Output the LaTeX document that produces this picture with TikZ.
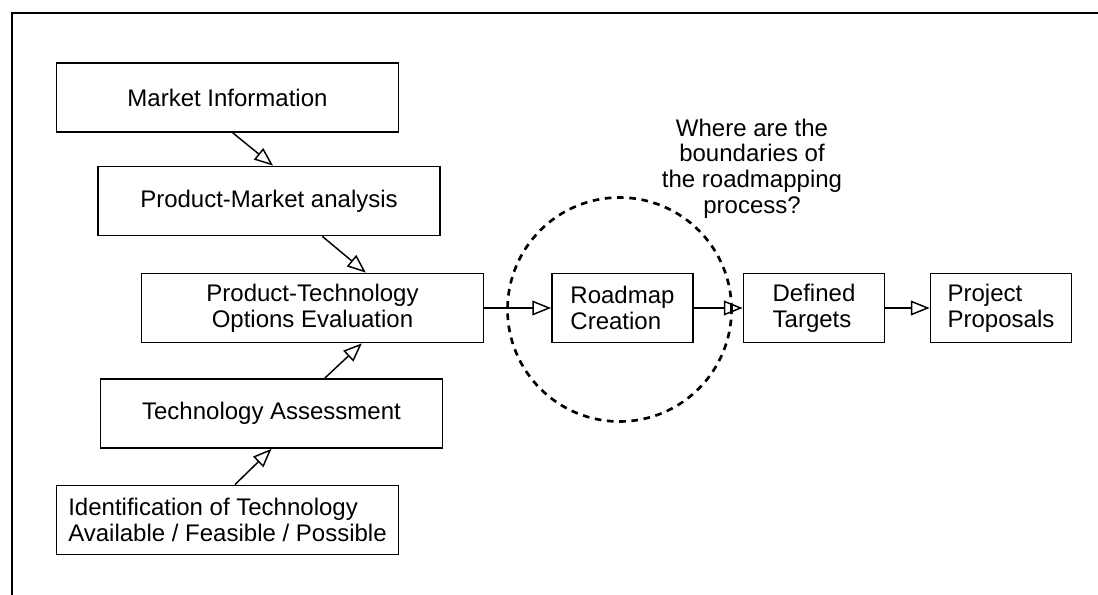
\documentclass[tikz,border=0pt]{standalone}
\usepackage{fontspec}
\setmainfont{Liberation Sans}
\usepackage{tikz}
\usetikzlibrary{arrows.meta, positioning, calc}

\begin{document}
\begin{tikzpicture}[
  x=0.75pt, y=-0.75pt,
  stage/.style={rectangle, draw, line width=1.1pt, minimum width=256.5pt, minimum height=52pt, inner sep=0pt, font=\fontsize{18}{19.2}\selectfont, align=center},
  small/.style={stage, minimum width=106pt, align=left},
  flow/.style={-{Triangle[open, length=14pt, width=11pt]}, line width=1.1pt},
]
\useasboundingbox (0,0) rectangle (1098,595);
\draw[line width=1.6pt] (1098,13) -- (12,13) -- (12,595);

\node[stage] (mkt) at (227.5,97.5) {Market Information};
\node[stage] (pma) at (269,201) {Product-Market analysis};
\node[stage] (pto) at (312.5,308) {Product-Technology\\Options Evaluation};
\node[stage] (tas) at (271.5,413.5) {Technology Assessment};
\node[stage, align=left] (idt) at (227.5,520) {Identification of Technology\\Available / Feasible / Possible};

\node[small] (rmc) at (622.5,308) {Roadmap\\Creation};
\node[small] (dtg) at (814,308) {Defined\\Targets};
\node[small] (prp) at (1001,308) {Project\\Proposals};

\node[circle, draw, line width=2pt, dash pattern=on 5pt off 4.2pt, minimum size=168pt, inner sep=0pt] (bnd) at (619.5,309.5) {};
\node[font=\fontsize{18}{19.2}\selectfont, align=center] (qst) at (752,168.5) {Where are the\\boundaries of\\the roadmapping\\process?};

\draw[flow] ([xshift=4pt]mkt.south) -- ([xshift=3pt]pma.north);
\draw[flow] ([xshift=40pt]pma.south) -- ([xshift=40pt]pto.north);
\draw[flow] ([xshift=40pt]tas.north) -- ([xshift=37pt]pto.south);
\draw[flow] ([xshift=5.6pt]idt.north) -- (tas.south);
\draw[flow] (pto.east) -- (rmc.west);
\draw[flow] (rmc.east) -- (dtg.west);
\draw[flow] (dtg.east) -- (prp.west);
\end{tikzpicture}
\end{document}
